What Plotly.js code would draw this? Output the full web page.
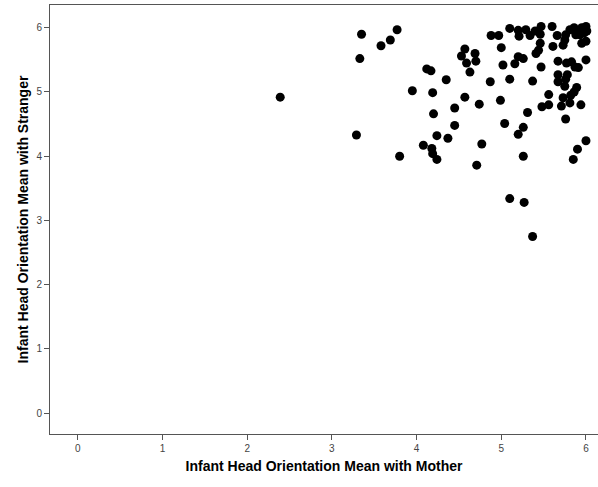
<!DOCTYPE html>
<html>
<head>
<meta charset="utf-8">
<script src="https://cdn.plot.ly/plotly-3.0.1.min.js"></script>
<style>html,body{margin:0;padding:0;background:#fff;}#chart{width:598px;height:487px;}</style>
</head>
<body>
<div id="chart"></div>
<script>
// Infant head orientation mean with mother (x) and with stranger (y)
const withMother = [
  2.39, 3.29, 3.35, 3.33, 3.58, 3.69, 3.77, 4.12, 4.17, 4.35,
  3.95, 4.19, 4.20, 4.24, 4.37, 4.08, 4.18, 4.19, 4.24, 3.80,
  4.77, 4.71, 5.26, 6.00, 5.90, 5.85, 5.10, 5.27, 5.37, 5.10,
  4.88, 4.97, 5.20, 5.21, 5.29, 5.34, 5.40, 5.47, 5.46, 5.60,
  5.66, 5.76, 5.81, 5.86, 5.90, 5.95, 6.00, 5.93, 5.98, 5.88,
  6.01, 5.75, 5.73, 5.95, 6.00, 5.61, 5.46, 5.00, 5.44, 5.41,
  4.57, 4.53, 4.69, 4.59, 4.70, 4.63, 5.02, 5.16, 5.20, 5.26,
  5.47, 5.67, 5.77, 5.83, 5.87, 5.91, 6.00, 5.67, 5.78, 5.67,
  5.76, 4.87, 5.10, 5.37, 5.75, 5.89, 5.86, 5.82, 5.56, 4.57,
  4.45, 4.74, 4.99, 5.48, 5.56, 5.73, 5.71, 5.81, 5.94, 5.31,
  5.76, 4.45, 5.04, 5.26, 5.20
];
const withStranger = [
  4.92, 4.33, 5.90, 5.52, 5.72, 5.81, 5.97, 5.36, 5.33, 5.19,
  5.02, 4.99, 4.66, 4.32, 4.28, 4.17, 4.12, 4.04, 3.95, 4.00,
  4.19, 3.86, 4.00, 4.24, 4.11, 3.95, 3.34, 3.28, 2.75, 5.99,
  5.88, 5.88, 5.96, 5.87, 5.97, 5.88, 5.95, 6.02, 5.90, 6.02,
  5.88, 5.89, 5.97, 6.00, 5.93, 6.00, 6.02, 5.89, 5.92, 5.89,
  5.95, 5.81, 5.73, 5.76, 5.79, 5.71, 5.76, 5.69, 5.65, 5.60,
  5.67, 5.56, 5.60, 5.45, 5.48, 5.31, 5.42, 5.44, 5.55, 5.52,
  5.39, 5.48, 5.45, 5.47, 5.39, 5.38, 5.50, 5.27, 5.27, 5.16,
  5.20, 5.16, 5.20, 5.17, 5.09, 5.07, 5.00, 4.95, 4.96, 4.92,
  4.75, 4.81, 4.87, 4.77, 4.80, 4.91, 4.78, 4.83, 4.80, 4.68,
  4.58, 4.48, 4.51, 4.45, 4.34
];
const tickValues = [0, 1, 2, 3, 4, 5, 6];
const tickLabels = ['0', '1', '2', '3', '4', '5', '6'];

const trace = {
  type: 'scatter',
  mode: 'markers',
  x: withMother,
  y: withStranger,
  marker: {color: '#000000', size: 9, line: {width: 0}},
  hoverinfo: 'x+y'
};

const axisCommon = {
  showgrid: false,
  zeroline: false,
  showline: true,
  linecolor: '#555555',
  linewidth: 1,
  ticks: 'outside',
  ticklen: 5,
  tickwidth: 1,
  tickcolor: '#555555',
  tickmode: 'array',
  tickvals: tickValues,
  ticktext: tickLabels,
  tickfont: {family: 'Liberation Sans, Arial, sans-serif', size: 10, color: '#444444'},
  automargin: false
};

const layout = {
  width: 598,
  height: 487,
  margin: {l: 50, r: 0, t: 5, b: 53},
  paper_bgcolor: '#ffffff',
  plot_bgcolor: '#ffffff',
  showlegend: false,
  xaxis: Object.assign({}, axisCommon, {
    range: [-0.328, 6.142],
    mirror: true,
    title: {text: 'Infant Head Orientation Mean with Mother', standoff: 8,
      font: {family: 'Liberation Sans, Arial, sans-serif', size: 14, color: '#000000', weight: 'bold'}}
  }),
  yaxis: Object.assign({}, axisCommon, {
    range: [-0.327, 6.355],
    title: {text: 'Infant Head Orientation Mean with Stranger', standoff: 4,
      font: {family: 'Liberation Sans, Arial, sans-serif', size: 14, color: '#000000', weight: 'bold'}}
  })
};

Plotly.newPlot('chart', [trace], layout, {displayModeBar: false, staticPlot: true});
</script>
</body>
</html>
